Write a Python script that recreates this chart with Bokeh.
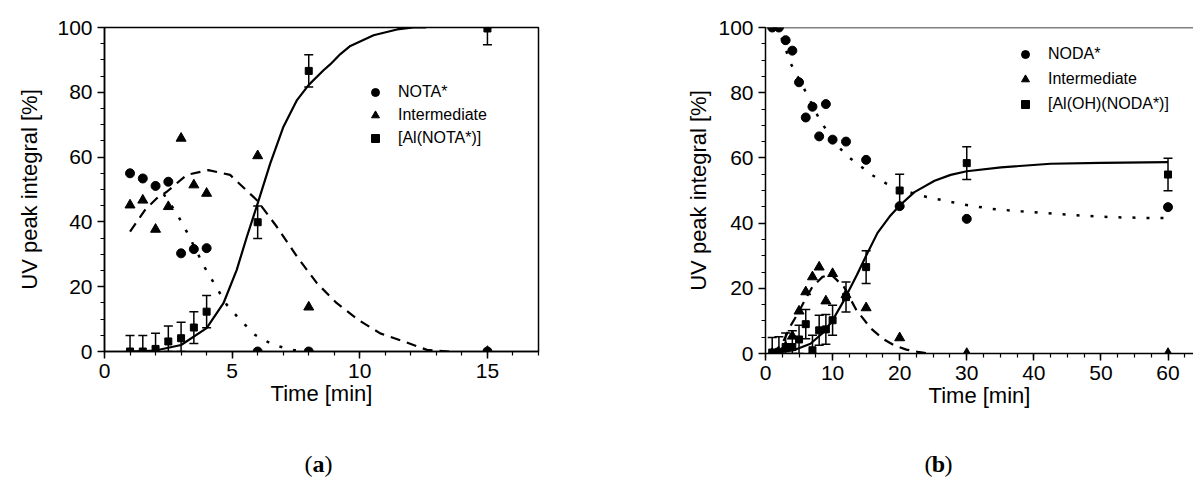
import numpy as np
from bokeh.plotting import figure
from bokeh.layouts import row, column
from bokeh.models import (ColumnDataSource, Whisker, TeeHead, Legend, LegendItem,
                          SingleIntervalTicker, Range1d, Span)
from bokeh.core.properties import value
from bokeh.embed import file_html
from bokeh.resources import INLINE

# ---------------- Panel (a) data ----------------
t_a = [1, 1.5, 2, 2.5, 3, 3.5, 4, 6, 8, 15]
nota_a = [55.0, 53.4, 51.1, 52.4, 30.3, 31.6, 31.9, 0, 0, 0]
inter_a = [45.2, 46.7, 37.7, 44.7, 65.8, 51.4, 48.8, 60.4, 13.7, 0]
al_a = [0, 0, 0.8, 3.1, 4.1, 7.4, 12.3, 39.9, 86.6, 99.7]
err_a = [4.9, 4.9, 4.8, 4.8, 4.9, 4.9, 5.0, 5.0, 5.0, 5.0]

# fitted curves
fit_al_a_t = [1, 2, 3, 4, 4.66, 5.18, 5.58, 6, 6.49, 7.01, 7.54, 8, 8.58, 8.84, 9.24, 9.63, 10.54, 11.46, 12.1, 12.6]
fit_al_a_v = [0, 0.3, 2.0, 7.2, 14.9, 25.2, 35.5, 45.7, 58, 69.4, 77.6, 82.3, 86.8, 88.6, 91.8, 94.3, 97.6, 99.4, 100, 100]
fit_nota_a_t = [1, 1.59, 2.3, 2.83, 3.22, 3.94, 4.37, 4.79, 5.31, 5.9, 6.62, 7.43, 8.0]
fit_nota_a_v = [56, 54, 48.8, 42.6, 37, 25.7, 20, 14.4, 9.8, 5.1, 2.0, 0.4, 0]
fit_int_a_t = [1, 1.59, 2.05, 2.44, 3.22, 4.07, 4.92, 5.97, 6.75, 7.54, 8.32, 9.1, 9.95, 10.8, 11.72, 12.63, 13.5]
fit_int_a_v = [37, 43.7, 47.3, 49.3, 54.5, 56.0, 54.5, 46.7, 38.5, 29.3, 21.1, 14.9, 9.7, 5.6, 3.1, 0.5, 0]

# ---------------- Panel (b) data ----------------
t_b = [1, 2, 3, 4, 5, 6, 7, 8, 9, 10, 12, 15, 20, 30, 60]
noda_b = [100, 100, 96.1, 92.9, 83.2, 72.4, 75.7, 66.6, 76.5, 65.6, 65.0, 59.4, 45.2, 41.3, 44.9]
inter_b = [0, 0, 2.0, 5.3, 13.0, 18.9, 23.5, 26.5, 16.1, 24.5, 18.0, 14.0, 4.8, 0, 0]
al_b = [0.3, 0.5, 2.0, 2.0, 4.3, 9.0, 1.0, 7.1, 7.4, 10.2, 17.3, 26.5, 50.0, 58.4, 54.9]
err_b = [4.6, 4.6, 4.3, 5.0, 4.4, 4.5, 4.6, 4.6, 4.6, 4.6, 4.6, 5.0, 5.0, 5.0, 5.0]

fit_noda_b_t = [1, 2.3, 3.8, 6.04, 8, 9.27, 10.5, 12.1, 14, 16, 17.96, 20, 22.2, 24.4, 26.9, 28.9, 33.6, 38.1, 42.8, 47.3, 52, 56.5, 60]
fit_noda_b_v = [100, 97.4, 88.8, 80.1, 72, 67.9, 64.3, 60.7, 57.7, 54.6, 52.2, 50.5, 49, 47.8, 46.9, 45.9, 44.4, 43.6, 42.9, 42.3, 41.8, 41.6, 41.6]
fit_al_b_t = [1, 4.2, 6.7, 8.7, 10, 11.7, 13.6, 15, 16.7, 18.5, 20, 22.2, 25.2, 27.6, 30, 35.1, 42.5, 50, 60]
fit_al_b_v = [0, 1, 3, 6.6, 10.2, 16.3, 24, 30, 37, 42, 45.4, 49.5, 53, 54.8, 55.9, 57.1, 58.2, 58.5, 58.7]
fit_int_b_t = [1, 2.5, 3.8, 4.8, 6.04, 7.0, 8.5, 9.76, 11.7, 13.5, 15.7, 17.5, 19.2, 21, 22.7, 24.5]
fit_int_b_v = [0, 3, 8.7, 12.2, 17, 20.5, 23.5, 24.3, 20.4, 13.5, 7.7, 4.5, 2.5, 1.2, 0.5, 0]

panel_tags = ["a", "b"]

FONT = "Liberation Sans"
TOP_H = 430
TAG_H = 56


def style(p, xint, xminor, ystand):
    p.xgrid.visible = False
    p.ygrid.visible = False
    p.background_fill_color = "white"
    p.border_fill_color = "white"
    p.xaxis.ticker = SingleIntervalTicker(interval=xint, num_minor_ticks=xminor)
    p.yaxis.ticker = SingleIntervalTicker(interval=20, num_minor_ticks=4)
    for ax in (p.xaxis, p.yaxis):
        ax.axis_line_color = "black"
        ax.axis_line_width = 1.5
        ax.major_tick_line_color = "black"
        ax.major_tick_line_width = 1.5
        ax.minor_tick_line_color = "black"
        ax.minor_tick_line_width = 1.2
        ax.major_tick_out = 7
        ax.major_tick_in = 0
        ax.minor_tick_out = 4
        ax.minor_tick_in = 0
        ax.major_label_text_font = FONT
        ax.major_label_text_font_size = "21px"
        ax.major_label_text_color = "black"
        ax.axis_label_text_font = FONT
        ax.axis_label_text_font_size = "22px"
        ax.axis_label_text_font_style = "normal"
        ax.axis_label_text_color = "black"
    p.xaxis.axis_label = "Time [min]"
    p.yaxis.axis_label = "UV peak integral [%]"
    p.xaxis.axis_label_standoff = 0
    p.yaxis.axis_label_standoff = ystand


def panel(t, c1, c2, c3, err, fits, xr, labels, fw, fh, mbl, mbt, mbr, xint, xminor,
          leg_loc, leg_spacing, outline, ystand):
    p = figure(frame_width=fw, frame_height=fh, min_border_left=mbl, min_border_top=mbt,
               min_border_right=mbr, min_border_bottom=TOP_H - mbt - fh,
               x_range=Range1d(*xr), y_range=Range1d(0, 100),
               toolbar_location=None, output_backend="svg")
    style(p, xint, xminor, ystand)
    if outline:
        p.outline_line_color = "black"
        p.outline_line_width = 1.5
    else:
        p.outline_line_color = None
        p.add_layout(Span(location=100, dimension="width", line_color="black", line_width=1.5))

    (ft1, fv1), (ft2, fv2), (ft3, fv3) = fits
    p.line(ft1, fv1, line_color="black", line_width=2.5, line_dash="3 11")
    p.line(ft2, fv2, line_color="black", line_width=2.2, line_dash="10 7")
    p.line(ft3, fv3, line_color="black", line_width=2.2)

    c3a = np.array(c3, dtype=float)
    ea = np.array(err, dtype=float)
    src = ColumnDataSource(dict(t=t, lo=np.clip(c3a - ea, 0, 100), hi=np.clip(c3a + ea, 0, 100)))
    w = Whisker(source=src, base="t", upper="hi", lower="lo", line_color="black", line_width=1.5,
                upper_head=TeeHead(size=9, line_width=1.5, line_color="black"),
                lower_head=TeeHead(size=9, line_width=1.5, line_color="black"))
    p.add_layout(w)

    r1 = p.scatter(t, c1, marker="circle", size=9, color="black")
    r2 = p.scatter(t, c2, marker="triangle", size=10, color="black")
    r3 = p.scatter(t, c3, marker="square", size=7, color="black")

    leg = Legend(items=[LegendItem(label=labels[0], renderers=[r1]),
                        LegendItem(label=labels[1], renderers=[r2]),
                        LegendItem(label=labels[2], renderers=[r3])],
                 location=leg_loc, spacing=leg_spacing, border_line_color=None,
                 background_fill_alpha=0, label_text_font=FONT, label_text_font_size="16px",
                 label_text_color="black",
                 glyph_width=20, glyph_height=20, label_height=20, label_standoff=13, padding=10,
                 margin=0)
    p.add_layout(leg)
    return p


pa = panel(t_a, nota_a, inter_a, al_a, err_a,
           [(fit_nota_a_t, fit_nota_a_v), (fit_int_a_t, fit_int_a_v), (fit_al_a_t, fit_al_a_v)],
           (0, 17), ["NOTA*", "Intermediate", "[Al(NOTA*)]"],
           434, 324, 104, 24, 62, 5, 5, (261, 203), 3, True, 12)

pb = panel(t_b, noda_b, inter_b, al_b, err_b,
           [(fit_noda_b_t, fit_noda_b_v), (fit_int_b_t, fit_int_b_v), (fit_al_b_t, fit_al_b_v)],
           (0, 63.8), ["NODA*", "Intermediate", "[Al(OH)(NODA*)]"],
           428, 326, 165, 27, 0, 10, 4, (250, 239), 5, False, 4)

# panel tags row: "(a)" and "(b)" below the plots
tagfig = figure(width=1193, height=TAG_H, x_range=Range1d(0, 1193), y_range=Range1d(TAG_H, 0),
                x_axis_type=None, y_axis_type=None, toolbar_location=None, output_backend="svg",
                min_border=0)
tagfig.outline_line_color = None
tagfig.xgrid.visible = False
tagfig.ygrid.visible = False
tag_cx = [318, 938]
tag_cy = [33, 33]
tagfig.text(x=tag_cx, y=tag_cy, text=panel_tags, text_align="center", text_baseline="middle",
            text_font=value("Liberation Serif"), text_font_size="24px", text_font_style="bold",
            text_color="black")
tagfig.text(x=tag_cx, y=tag_cy, text=["(", "("], x_offset=-6, text_align="right",
            text_baseline="middle", text_font=value("Liberation Serif"), text_font_size="24px",
            text_color="black")
tagfig.text(x=tag_cx, y=tag_cy, text=[")", ")"], x_offset=6, text_align="left",
            text_baseline="middle", text_font=value("Liberation Serif"), text_font_size="24px",
            text_color="black")

layout = column(row(pa, pb), tagfig)
open("out.html", "w").write(file_html(layout, INLINE))
